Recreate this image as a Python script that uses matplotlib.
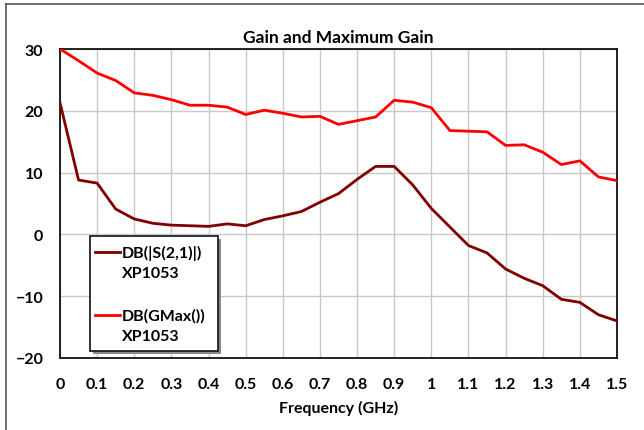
import matplotlib.pyplot as plt
from matplotlib.lines import Line2D
from matplotlib.patches import Rectangle

# Frequency points (GHz)
freq = [0.0, 0.05, 0.1, 0.15, 0.2, 0.25, 0.3, 0.35, 0.4, 0.45, 0.5, 0.55, 0.6, 0.65, 0.7, 0.75,
        0.8, 0.85, 0.9, 0.95, 1.0, 1.05, 1.1, 1.15, 1.2, 1.25, 1.3, 1.35, 1.4, 1.45, 1.5]

# DB(|S(2,1)|) XP1053
s21_db = [21.3, 8.8, 8.3, 4.1, 2.5, 1.8, 1.5, 1.4, 1.3, 1.7, 1.4, 2.4, 3.0, 3.7, 5.2, 6.6,
          8.9, 11.0, 11.0, 8.0, 4.2, 1.2, -1.8, -3.0, -5.6, -7.1, -8.3, -10.5, -11.0, -13.0, -14.0]

# DB(GMax()) XP1053
gmax_db = [30.0, 28.1, 26.1, 24.9, 22.9, 22.5, 21.8, 20.9, 20.9, 20.6, 19.4, 20.1, 19.6, 19.0, 19.1, 17.8,
           18.4, 19.0, 21.7, 21.4, 20.5, 16.8, 16.7, 16.6, 14.4, 14.5, 13.3, 11.3, 11.9, 9.3, 8.7]

xticks = [0, 0.1, 0.2, 0.3, 0.4, 0.5, 0.6, 0.7, 0.8, 0.9, 1.0, 1.1, 1.2, 1.3, 1.4, 1.5]
xtick_labels = ['0', '0.1', '0.2', '0.3', '0.4', '0.5', '0.6', '0.7', '0.8', '0.9',
                '1', '1.1', '1.2', '1.3', '1.4', '1.5']
yticks = [-20, -10, 0, 10, 20, 30]

legend_names = ['DB(|S(2,1)|)', 'DB(GMax())']
legend_sub = ['XP1053', 'XP1053']
line_colors = ['#7f0000', '#ff0000']

plt.rcParams['font.family'] = ['Lato', 'DejaVu Sans']
plt.rcParams['font.weight'] = 'bold'

W, H = 644, 431
fig = plt.figure(figsize=(6.44, 4.31), dpi=100)
ax = fig.add_axes([60 / W, 1 - 359 / H, 557 / W, 309 / H])

# outer frame (top and left edges visible)
fig.add_artist(Line2D([6 / W, 6 / W], [0, 1 - 5 / H], color='#555555', lw=1.2))
fig.add_artist(Line2D([6 / W, 1], [1 - 5 / H, 1 - 5 / H], color='#555555', lw=1.2))

ax.plot(freq, s21_db, color=line_colors[0], lw=2, zorder=3)
ax.plot(freq, gmax_db, color=line_colors[1], lw=2, zorder=3)

ax.set_xlim(0, 1.5)
ax.set_ylim(-20, 30)
ax.set_xticks(xticks)
ax.set_xticklabels(xtick_labels)
ax.set_yticks(yticks)
ax.grid(True, color='#c8c8c8', lw=1)
ax.set_axisbelow(True)
ax.tick_params(length=0, labelsize=11.5, pad=14)
ax.tick_params(axis='y', pad=12)
for s in ax.spines.values():
    s.set_linewidth(1.3)
    s.set_color('#111111')

ax.set_title('Gain and Maximum Gain', fontsize=12.5, fontweight='bold', pad=5)
ax.set_xlabel('Frequency (GHz)', fontsize=11.5, fontweight='bold', labelpad=6)


def fx(px):
    return px / W


def fy(py):
    return 1 - py / H


# legend box with shadow
fig.add_artist(Rectangle((fx(93), fy(355)), 128 / W, 115 / H, facecolor='#8a8a8a',
                         edgecolor='none', zorder=4))
fig.add_artist(Rectangle((fx(90), fy(352)), 128 / W, 115 / H, facecolor='white',
                         edgecolor='#111111', lw=1.2, zorder=5))
for i, (name, sub, c) in enumerate(zip(legend_names, legend_sub, line_colors)):
    y0 = 253 + i * 63
    fig.add_artist(Line2D([fx(95), fx(120)], [fy(y0), fy(y0)], color=c, lw=2, zorder=6))
    fig.text(fx(122), fy(y0), name, fontsize=11.5, fontweight='bold', va='center', ha='left', zorder=6)
    fig.text(fx(122), fy(y0 + 21), sub, fontsize=11.5, fontweight='bold', va='center', ha='left', zorder=6)

fig.savefig('out.png', dpi=100)
